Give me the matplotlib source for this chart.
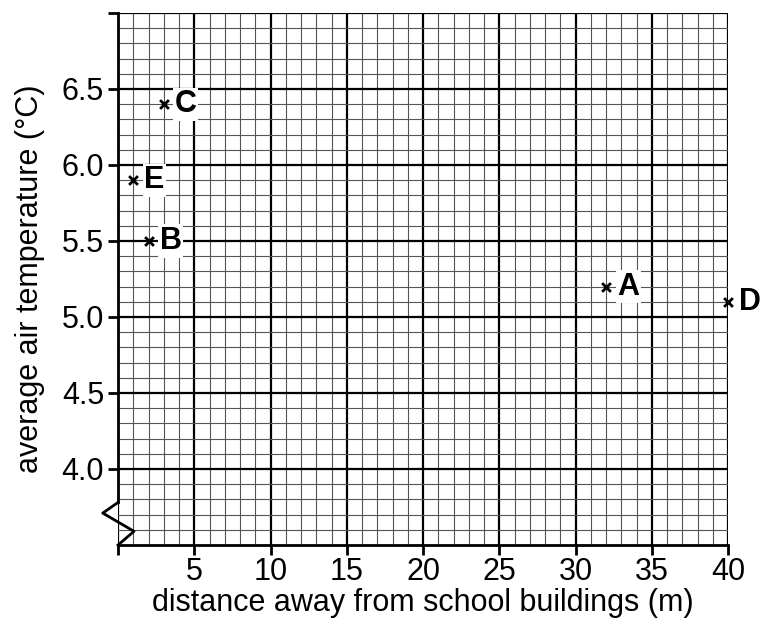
import numpy as np
import matplotlib.pyplot as plt
from matplotlib.ticker import MultipleLocator, FormatStrFormatter

plt.rcParams['font.family'] = ['Liberation Sans', 'DejaVu Sans']

# readings from the survey sites
site_labels = ['A', 'B', 'C', 'D', 'E']
distance_m = [32, 2, 3, 40, 1]
air_temp_c = [5.2, 5.5, 6.4, 5.1, 5.9]

x_ticks = [0, 5, 10, 15, 20, 25, 30, 35, 40]
x_tick_labels = ['', '5', '10', '15', '20', '25', '30', '35', '40']
y_ticks = [4.0, 4.5, 5.0, 5.5, 6.0, 6.5, 7.0]
y_tick_labels = ['4.0', '4.5', '5.0', '5.5', '6.0', '6.5', '']

fig = plt.figure(figsize=(7.6, 6.19), dpi=100)
ax = fig.add_axes([118 / 760, 1 - 545 / 619, 610 / 760, 532 / 619])

ax.set_xlim(0, 40)
ax.set_ylim(3.5, 7.0)

ax.xaxis.set_minor_locator(MultipleLocator(1))
ax.yaxis.set_minor_locator(MultipleLocator(0.1))
ax.set_xticks(x_ticks)
ax.set_xticklabels(x_tick_labels)
ax.set_yticks(y_ticks)
ax.set_yticklabels(y_tick_labels)

ax.grid(which='minor', color='#555555', linewidth=0.8)
ax.grid(which='major', color='black', linewidth=1.6)
ax.set_axisbelow(True)

ax.tick_params(which='major', direction='out', length=7, width=2, labelsize=22, pad=2)
ax.tick_params(axis='y', pad=3)
ax.tick_params(which='minor', length=0)

for side in ['top', 'right']:
    ax.spines[side].set_visible(False)
ax.spines['left'].set_linewidth(2)
ax.spines['bottom'].set_linewidth(2)
ax.spines['left'].set_bounds(3.78, 7.0)

# axis break zigzag on the y axis
ax.plot([0, -1.0, 1.05, 0], [3.78, 3.71, 3.59, 3.5], color='black', lw=2, clip_on=False, zorder=5)

ax.scatter(distance_m, air_temp_c, marker='x', s=40, color='black', linewidths=2, zorder=6, clip_on=False)
for lab, x, y in zip(site_labels, distance_m, air_temp_c):
    ax.annotate(lab, (x, y), xytext=(8, 0), textcoords='offset points', fontsize=22,
                fontweight='bold', va='center', ha='left', zorder=7,
                bbox=dict(boxstyle='square,pad=0.05', fc='white', ec='none'))

ax.set_xlabel('distance away from school buildings (m)', fontsize=22, labelpad=0)
ax.set_ylabel('average air temperature (°C)', fontsize=22, labelpad=12)

fig.savefig('out.png', dpi=100)
